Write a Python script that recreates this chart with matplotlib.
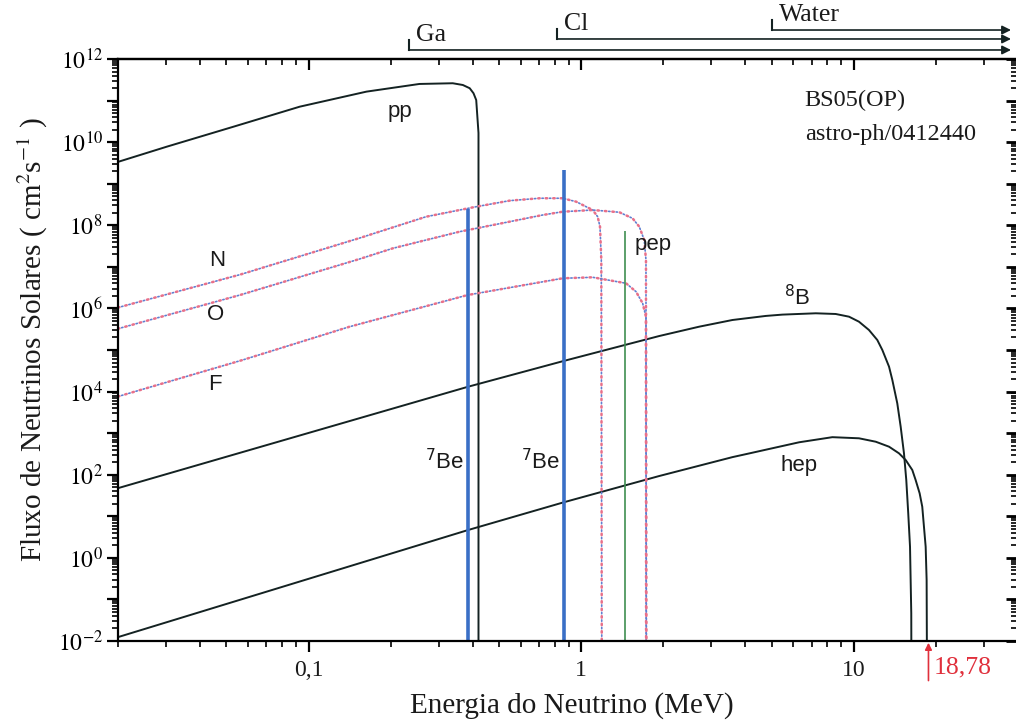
import numpy as np
import matplotlib
matplotlib.use("Agg")
import matplotlib.pyplot as plt
import matplotlib.ticker as ticker

plt.rcParams["font.family"] = ["Liberation Serif", "DejaVu Serif"]
plt.rcParams["mathtext.fontset"] = "stix"
SANS = ["Liberation Sans", "DejaVu Sans"]

# Spectra (energy in MeV, flux); last point drops below the axis floor
pp_e = [0.02, 0.0302, 0.0529, 0.0928, 0.163, 0.255, 0.338, 0.368, 0.390, 0.4027, 0.412, 0.420, 0.420]
pp_f = [3.35e9, 7.78e9, 2.34e10, 7.13e10, 1.64e11, 2.51e11, 2.61e11, 2.37e11, 1.98e11, 1.50e11, 1.03e11, 1.66e10, 1e-3]

n13_e = [0.02, 0.056, 0.154, 0.270, 0.412, 0.546, 0.703, 0.855, 0.958, 1.102, 1.149, 1.172, 1.185, 1.19]
n13_f = [1.05e6, 6.49e6, 4.94e7, 1.61e8, 2.80e8, 3.91e8, 4.47e8, 4.47e8, 3.70e8, 2.33e8, 1.61e8, 9.25e7, 1.46e7, 1e-3]

o15_e = [0.02, 0.056, 0.154, 0.204, 0.358, 0.546, 0.723, 0.855, 1.102, 1.380, 1.543, 1.633, 1.703, 1.728, 1.73]
o15_f = [3.25e5, 2.10e6, 1.55e7, 2.80e7, 7.02e7, 1.22e8, 1.77e8, 2.12e8, 2.33e8, 2.06e8, 1.47e8, 9.25e7, 4.43e7, 1.46e7, 1e-3]

f17_e = [0.02, 0.0573, 0.1415, 0.383, 0.546, 0.855, 1.102, 1.460, 1.589, 1.680, 1.728, 1.735]
f17_f = [7.6e3, 5.75e4, 3.64e5, 2.10e6, 3.16e6, 5.31e6, 5.61e6, 4.03e6, 2.53e6, 1.33e6, 6.32e5, 1e-3]

b8_e = [0.02, 0.385, 0.8625, 1.933, 2.709, 3.587, 4.755, 5.47, 7.25, 8.58, 9.60, 10.44, 11.36, 12.19,
        12.72, 13.46, 13.84, 14.43, 14.85, 15.27, 15.57, 15.83, 16.07, 16.24, 16.26]
b8_f = [47.5, 1.31e4, 5.45e4, 2.17e5, 3.64e5, 5.27e5, 6.6e5, 7.1e5, 7.64e5, 7.35e5, 6.33e5, 4.80e5, 3.03e5, 1.74e5,
        1.0e5, 3.97e4, 1.90e4, 5.22e3, 1.43e3, 327, 74.6, 11.8, 1.85, 0.0463, 1e-3]

hep_e = [0.02, 0.385, 0.8625, 1.933, 3.587, 4.13, 6.30, 8.34, 10.44, 12.03, 13.46, 14.64, 15.49, 16.38,
         16.85, 17.43, 17.82, 18.12, 18.34, 18.49, 18.55]
hep_f = [0.0124, 4.68, 21.7, 93.1, 265, 325, 603, 800, 752, 622, 472, 327, 226, 130,
         74.6, 35.7, 17.0, 4.68, 1.85, 0.293, 1e-3]

# Monoenergetic lines: 7Be (two), pep
line_e = [0.384, 0.862, 1.442]
line_top = [2.43e8, 2.14e9, 7.4e7]
line_colors = ["#3a6fc6", "#3a6fc6", "#3f8f52"]
line_widths = [2.6, 2.6, 1.2]

# Detector thresholds (MeV)
thr_names = ["Ga", "Cl", "Water"]
thr_e = [0.233, 0.814, 5.0]
thr_y = [1.0155, 1.0344, 1.0498]   # axes fraction above the frame

xticks = [0.1, 1, 10]
xtick_labels = ["0,1", "1", "10"]

hep_end = 18.78

fig = plt.figure(figsize=(10.16, 7.25), dpi=100)
ax = fig.add_axes([118 / 1016, (725 - 641) / 725, 900 / 1016, 582 / 725])
ax.set_xscale("log")
ax.set_yscale("log")
ax.set_xlim(0.02, 40)
ax.set_ylim(1e-2, 1e12)

ink = "#142222"
for e, f in [(pp_e, pp_f), (b8_e, b8_f), (hep_e, hep_f)]:
    ax.plot(e, f, color=ink, lw=1.4, solid_joinstyle="round")

# CNO spectra: alternating pink and blue dots
for e, f in [(n13_e, n13_f), (o15_e, o15_f), (f17_e, f17_f)]:
    ax.plot(e, f, color="#e8708a", lw=1.8, ls=(0, (0.6, 2.4)), dash_capstyle="round")
    ax.plot(e, f, color="#5f7fd0", lw=1.2, ls=(2.25, (0.8, 3.7)), dash_capstyle="round")

ax.vlines(line_e, 1e-3, line_top, colors=line_colors, lw=line_widths)

# source labels
lab = dict(family=SANS, fontsize=16, color="#1a1a1a", ha="center", va="center")
ax.text(0.216, 5.4e10, "pp", **lab)
ax.text(0.0462, 1.41e7, "N", **lab)
ax.text(0.0456, 6.95e5, "O", **lab)
ax.text(0.0455, 1.52e4, "F", **lab)
ax.text(0.314, 206, r"$^{7}$Be", math_fontfamily="dejavusans", **lab)
ax.text(0.709, 206, r"$^{7}$Be", math_fontfamily="dejavusans", **lab)
ax.text(1.83, 3.36e7, "pep", **lab)
ax.text(6.19, 1.78e6, r"$^{8}$B", math_fontfamily="dejavusans", **lab)
ax.text(6.30, 171, "hep", **lab)

ax.text(0.763, 0.9296, "BS05(OP)", transform=ax.transAxes, fontsize=17.5, va="center", color="#1a1a1a")
ax.text(0.763, 0.8711, "astro-ph/0412440", transform=ax.transAxes, fontsize=17.5, va="center", color="#1a1a1a")

# threshold arrows above the frame
trans = ax.get_xaxis_transform()
x_arrow = 37.7
for name, e, y in zip(thr_names, thr_e, thr_y):
    ax.annotate("", xy=(x_arrow, y), xytext=(e, y), xycoords=trans, textcoords=trans,
                arrowprops=dict(arrowstyle="-|>", color=ink, lw=1.2, mutation_scale=13,
                                shrinkA=0, shrinkB=0), annotation_clip=False)
    ax.plot([e, e], [y, y + 0.0165], transform=trans, color=ink, lw=1.5, clip_on=False)
    ax.annotate(name, xy=(e, y), xycoords=trans, xytext=(5, 3), textcoords="offset points",
                fontsize=18.5, va="bottom", ha="left", color="#1a1a1a", annotation_clip=False)

# hep end-point marker
red = "#e0303c"
ax.annotate("", xy=(hep_end, -0.003), xytext=(hep_end, -0.068), xycoords=trans, textcoords=trans,
            arrowprops=dict(arrowstyle="-|>", color=red, lw=1.2, mutation_scale=10,
                            shrinkA=0, shrinkB=0), annotation_clip=False)
ax.annotate("18,78", xy=(hep_end, -0.046), xycoords=trans, xytext=(4, 0), textcoords="offset points",
            fontsize=18.5, color=red, va="center", ha="left", annotation_clip=False)

# axes, ticks
decades_y = np.arange(-2, 13)
minor_y = [m * 10.0 ** k for k in range(-2, 12) for m in range(2, 10)]
minor_x = [m * 10.0 ** k for k in range(-2, 2) for m in range(2, 10)]


def ylabel_fmt(v, pos):
    p = int(round(np.log10(v)))
    return r"$10^{%d}$" % p if p % 2 == 0 else ""


ax.yaxis.set_major_locator(ticker.FixedLocator(10.0 ** decades_y))
ax.yaxis.set_minor_locator(ticker.FixedLocator(minor_y))
ax.yaxis.set_minor_formatter(ticker.NullFormatter())
ax.yaxis.set_major_formatter(ticker.FuncFormatter(ylabel_fmt))
ax.xaxis.set_major_locator(ticker.FixedLocator(xticks))
ax.xaxis.set_major_formatter(ticker.NullFormatter())
ax.xaxis.set_minor_locator(ticker.FixedLocator(minor_x))
ax.xaxis.set_minor_formatter(ticker.NullFormatter())
for v, s in zip(xticks, xtick_labels):
    ax.text(v, -0.032, s, transform=trans, fontsize=17, ha="center", va="top", color="#1a1a1a")

for sp in ax.spines.values():
    sp.set_linewidth(1.6)
ax.tick_params(which="major", direction="out", length=8, width=1.6, labelsize=17, pad=3)
ax.tick_params(which="minor", direction="out", length=4, width=1.2)

top = ax.secondary_xaxis("top")
top.xaxis.set_major_locator(ticker.FixedLocator(xticks))
top.xaxis.set_minor_locator(ticker.FixedLocator(minor_x))
top.xaxis.set_major_formatter(ticker.NullFormatter())
top.xaxis.set_minor_formatter(ticker.NullFormatter())
top.tick_params(which="major", direction="in", length=8, width=1.6)
top.tick_params(which="minor", direction="in", length=4, width=1.2)
top.spines["top"].set_linewidth(1.6)

right = ax.secondary_yaxis("right")
right.yaxis.set_major_locator(ticker.FixedLocator(10.0 ** decades_y))
right.yaxis.set_minor_locator(ticker.FixedLocator(minor_y))
right.yaxis.set_major_formatter(ticker.NullFormatter())
right.yaxis.set_minor_formatter(ticker.NullFormatter())
right.tick_params(which="major", direction="in", length=9, width=2.0)
right.tick_params(which="minor", direction="in", length=5, width=1.2)

fig.text(572 / 1016, 1 - 706 / 725, "Energia do Neutrino (MeV)", fontsize=21,
         ha="center", va="center", color="#1a1a1a")
fig.text(33 / 1016, 1 - 340 / 725, r"Fluxo de Neutrinos Solares ( cm$^{2}$s$^{-1}$ )",
         fontsize=21, rotation=90, ha="center", va="center", color="#1a1a1a")

fig.savefig("out.png", dpi=100)
